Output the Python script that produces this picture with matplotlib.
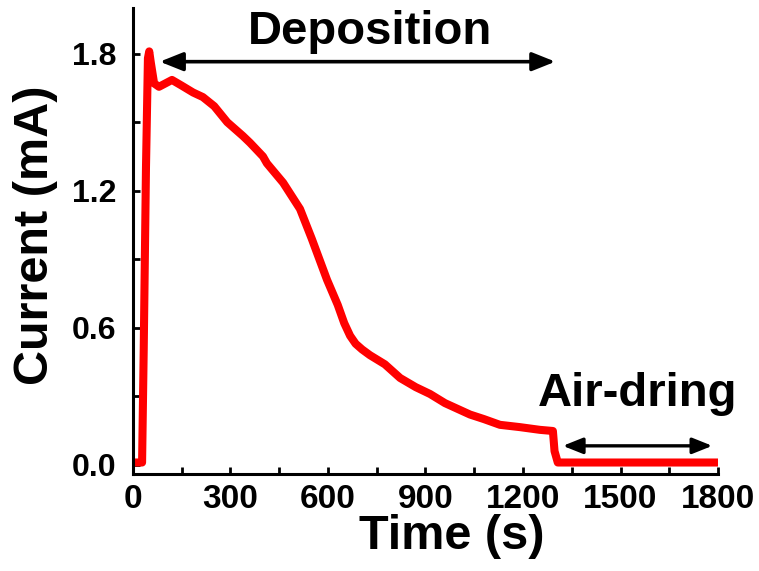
import matplotlib
matplotlib.use("Agg")
import matplotlib.pyplot as plt
from matplotlib.ticker import MultipleLocator
from matplotlib.patches import FancyArrowPatch

plt.rcParams['font.family'] = ['Liberation Sans', 'DejaVu Sans']
plt.rcParams['font.weight'] = 'bold'

# Chronoamperometry trace: deposition followed by air-drying
time_s = [0, 28, 33, 40, 46, 50, 55, 65, 80, 100, 120, 150, 185, 215, 250,
          290, 338, 360, 400, 412, 462, 514, 550, 597, 630, 650, 668, 685,
          705, 729, 775, 822, 870, 914, 960, 1037, 1080, 1129, 1190, 1252,
          1292, 1297, 1307, 1350, 1500, 1800]
current_mA = [0.01, 0.01, 0.5, 1.3, 1.78, 1.81, 1.76, 1.67, 1.655, 1.67, 1.685,
              1.66, 1.63, 1.61, 1.57, 1.50, 1.44, 1.41, 1.35, 1.32, 1.235, 1.12,
              0.99, 0.81, 0.70, 0.62, 0.565, 0.53, 0.505, 0.48, 0.44, 0.38,
              0.34, 0.31, 0.27, 0.22, 0.20, 0.175, 0.165, 0.153, 0.148, 0.06,
              0.01, 0.01, 0.01, 0.01]

x_ticks = [0, 300, 600, 900, 1200, 1500, 1800]
y_ticks = [0.0, 0.6, 1.2, 1.8]

deposition_span = (74, 1308)
deposition_level = 1.765
drying_span = (1314, 1791)
drying_level = 0.083

fig = plt.figure(figsize=(7.59, 5.71), dpi=100)
ax = fig.add_axes([0.1752, 0.170, 0.7708, 0.816])

ax.plot(time_s, current_mA, color='#ff0000', lw=5.8, solid_joinstyle='round',
        solid_capstyle='butt')

ax.set_xlim(0, 1800)
ax.set_ylim(-0.04, 2.0)
ax.set_xticks(x_ticks)
ax.set_yticks(y_ticks)
ax.set_yticklabels([f"{v:.1f}" for v in y_ticks])
ax.xaxis.set_minor_locator(MultipleLocator(150))
ax.yaxis.set_minor_locator(MultipleLocator(0.3))

for side in ('top', 'right'):
    ax.spines[side].set_visible(False)
for side in ('left', 'bottom'):
    ax.spines[side].set_linewidth(2.2)

ax.tick_params(which='both', direction='in', length=5, width=2)
ax.tick_params(axis='x', labelsize=24, pad=7)
ax.tick_params(axis='y', labelsize=23, pad=12)
for lbl in ax.get_xticklabels() + ax.get_yticklabels():
    lbl.set_fontweight('bold')

ax.set_xlabel('Time (s)', fontsize=35, fontweight='bold')
ax.set_ylabel('Current (mA)', fontsize=35, fontweight='bold')
ax.xaxis.set_label_coords(0.545, -0.085)
ax.yaxis.set_label_coords(-0.128, 0.513)

arr1 = FancyArrowPatch((deposition_span[0], deposition_level),
                       (deposition_span[1], deposition_level),
                       arrowstyle='<|-|>,head_length=1.0,head_width=0.4',
                       mutation_scale=14, lw=2.6, color='black')
ax.add_patch(arr1)
arr2 = FancyArrowPatch((drying_span[0], drying_level),
                       (drying_span[1], drying_level),
                       arrowstyle='<|-|>,head_length=1.0,head_width=0.4',
                       mutation_scale=12, lw=2.4, color='black')
ax.add_patch(arr2)

ax.text(729, 1.844, 'Deposition', fontsize=34, fontweight='bold',
        ha='center', va='baseline')
ax.text(1554, 0.259, 'Air-dring', fontsize=34, fontweight='bold',
        ha='center', va='baseline')

fig.savefig('out.png', dpi=100)
